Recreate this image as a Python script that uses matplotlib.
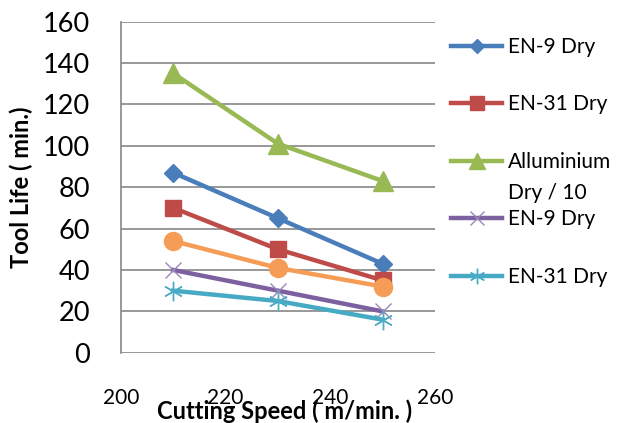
import numpy as np
import matplotlib
matplotlib.use('Agg')
import matplotlib.pyplot as plt

plt.rcParams['font.family'] = ['Lato', 'DejaVu Sans']

speed = [210, 230, 250]
en9_dry = [87, 65, 43]
en31_dry = [70, 50, 35]
alu_dry = [135, 101, 83]
orange_series = [54, 41, 32]
en9_dry_2 = [40, 30, 20]
en31_dry_2 = [30, 25, 16]

labels = ['EN-9 Dry', 'EN-31 Dry', 'Alluminium', '_nolegend_', 'EN-9 Dry', 'EN-31 Dry']

fig = plt.figure(figsize=(6.33, 4.23), dpi=100)
ax = fig.add_axes([0.191, 0.166, 0.496, 0.783])

lw = 3.2
ax.plot(speed, en9_dry, color='#4A7EBB', lw=lw, marker='D', ms=9, label=labels[0])
ax.plot(speed, en31_dry, color='#BE4B48', lw=lw, marker='s', ms=12, label=labels[1])
ax.plot(speed, alu_dry, color='#98B954', lw=lw, marker='^', ms=14, label=labels[2])
ax.plot(speed, orange_series, color='#F59D56', lw=lw, marker='o', ms=13, label=labels[3])
ax.plot(speed, en9_dry_2, color='#7D60A0', lw=lw, marker='x', ms=12, mew=1, mec='#9A86BC', label=labels[4])
ax.plot(speed, en31_dry_2, color='#46AAC5', lw=lw, marker=(6, 2, 0), ms=14, mew=1, mec='#4BACC6', label=labels[5])

ax.set_xlim(200, 260)
ax.set_ylim(0, 160)
ax.set_xticks(np.arange(200, 261, 20))
ax.set_yticks(np.arange(0, 161, 20))
ax.grid(axis='y', color='#868686', lw=1.2)
ax.set_axisbelow(True)
for s in ['top', 'right', 'bottom']:
    ax.spines[s].set_visible(False)
ax.spines['left'].set_color('#868686')
ax.spines['left'].set_linewidth(1.2)
ax.tick_params(axis='y', length=0, pad=22, labelsize=19.5)
ax.tick_params(axis='x', length=0, pad=25, labelsize=15)

ax.set_xlabel('Cutting Speed ( m/min. )', fontsize=17, fontweight='bold')
ax.xaxis.set_label_coords(0.52, -0.14)
ax.set_ylabel('Tool Life ( min.)', fontsize=17, fontweight='bold')
ax.yaxis.set_label_coords(-0.28, 0.5)

fig.legend(loc='upper left', bbox_to_anchor=(0.683, 0.957), frameon=False,
           fontsize=15, labelspacing=1.8, handlelength=2.45, handletextpad=0.3,
           markerscale=0.8)
fig.text(0.8025, 0.544, 'Dry / 10', fontsize=15, va='center', ha='left')

fig.savefig('out.png', dpi=100)
